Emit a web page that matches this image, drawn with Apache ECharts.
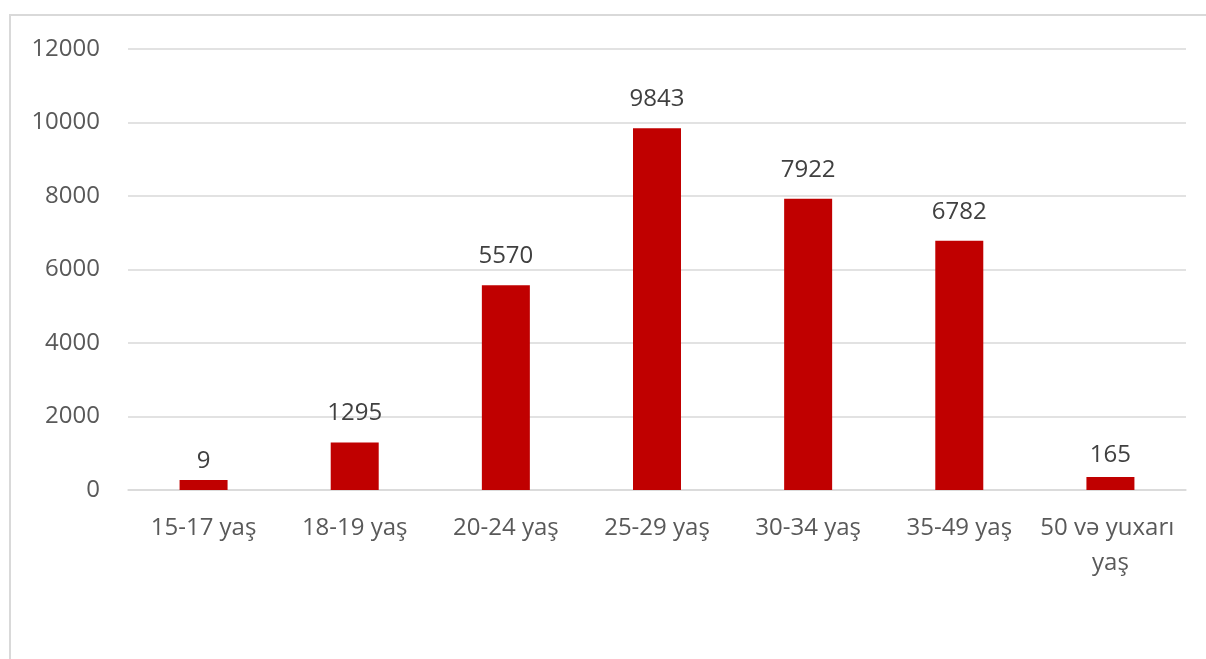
<!DOCTYPE html>
<html>
<head>
<meta charset="utf-8">
<script src="https://cdn.jsdelivr.net/npm/echarts@6/dist/echarts.min.js"></script>
<style>
html,body{margin:0;padding:0;background:#fff;}
#chart{width:1206px;height:659px;}
</style>
</head>
<body>
<div id="chart"></div>
<script>
// Age groups
const categories = ["15-17 yaş", "18-19 yaş", "20-24 yaş", "25-29 yaş", "30-34 yaş", "35-49 yaş", "50 və yuxarı yaş"];
// Values printed as data labels
const labelValues = [9, 1295, 5570, 9843, 7922, 6782, 165];
// Bar heights as drawn in the picture (the two smallest bars are drawn taller than their labels)
const barHeights = [270, 1295, 5570, 9843, 7922, 6782, 355];
// Y axis ticks
const yMin = 0, yMax = 12000, yStep = 2000;

const font = '"Open Sans", "Noto Sans", sans-serif';
const chart = echarts.init(document.getElementById('chart'), null, {renderer: 'canvas'});
chart.setOption({
  animation: false,
  backgroundColor: '#ffffff',
  graphic: [{
    type: 'rect',
    shape: {x: 10, y: 15, width: 1400, height: 900},
    style: {fill: 'none', stroke: '#d9d9d9', lineWidth: 2},
    silent: true
  }],
  grid: {left: 128, right: 20, top: 49, bottom: 169, containLabel: false},
  xAxis: {
    type: 'category',
    data: categories,
    axisLine: {show: true, lineStyle: {color: '#d9d9d9', width: 1.5}},
    axisTick: {show: false},
    axisLabel: {
      color: '#595959', fontFamily: font, fontSize: 24, margin: 21,
      lineHeight: 35, width: 175, overflow: 'break', interval: 0
    }
  },
  yAxis: {
    type: 'value',
    min: yMin, max: yMax, interval: yStep,
    axisLine: {show: false},
    axisTick: {show: false},
    splitLine: {lineStyle: {color: '#d9d9d9', width: 1.5}},
    axisLabel: {color: '#595959', fontFamily: font, fontSize: 24, margin: 28,
      formatter: function (v) { return String(v); }}
  },
  series: [
    {
      type: 'bar',
      data: barHeights,
      barWidth: 48,
      itemStyle: {color: '#c00000'},
      z: 2
    },
    {
      type: 'bar',
      data: labelValues,
      barWidth: 48,
      barGap: '-100%',
      itemStyle: {color: 'rgba(0,0,0,0)'},
      label: {
        show: true, position: 'top', distance: 17,
        color: '#404040', fontFamily: font, fontSize: 24
      },
      z: 3
    }
  ]
});
</script>
</body>
</html>
